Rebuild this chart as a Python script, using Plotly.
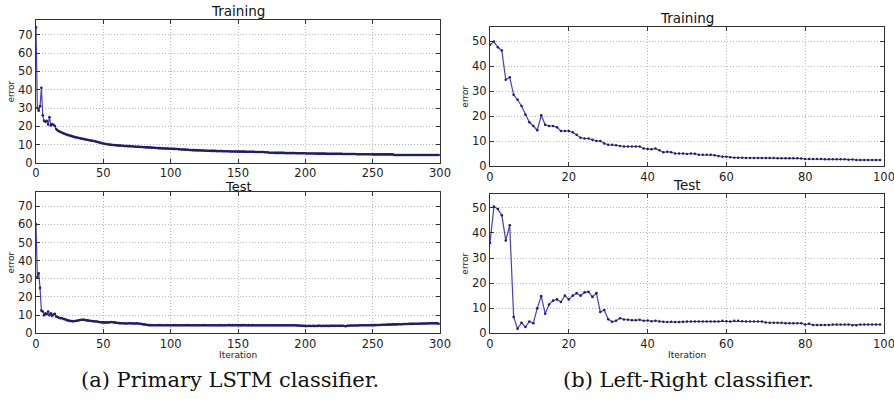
import plotly.graph_objects as go

# ---------------- data ----------------
iter_a = list(range(300))
train_a = [
    74.0, 30.0, 28.5, 31.0, 41.0, 26.0, 23.0, 22.5, 23.0, 21.0,
    25.0, 20.5, 21.2, 20.8, 20.2, 18.5, 17.8, 17.3, 17.0, 16.6,
    16.3, 16.0, 15.7, 15.4, 15.2, 15.0, 14.8, 14.5, 14.3, 14.1,
    13.9, 13.8, 13.6, 13.4, 13.3, 13.1, 13.0, 12.8, 12.7, 12.5,
    12.4, 12.2, 12.1, 12.0, 11.8, 11.6, 11.4, 11.2, 11.0, 10.8,
    10.6, 10.5, 10.3, 10.2, 10.1, 10.0, 9.9, 9.8, 9.8, 9.7,
    9.6, 9.6, 9.5, 9.5, 9.4, 9.4, 9.3, 9.3, 9.2, 9.2,
    9.1, 9.1, 9.0, 9.0, 8.9, 8.9, 8.8, 8.8, 8.7, 8.7,
    8.6, 8.6, 8.5, 8.5, 8.5, 8.4, 8.4, 8.3, 8.3, 8.2,
    8.2, 8.1, 8.1, 8.0, 8.0, 8.0, 7.9, 7.9, 7.9, 7.8,
    7.8, 7.8, 7.7, 7.7, 7.6, 7.6, 7.5, 7.5, 7.4, 7.4,
    7.3, 7.3, 7.2, 7.2, 7.1, 7.1, 7.0, 7.0, 7.0, 6.9,
    6.9, 6.9, 6.8, 6.8, 6.8, 6.8, 6.7, 6.7, 6.7, 6.7,
    6.6, 6.6, 6.6, 6.6, 6.5, 6.5, 6.5, 6.5, 6.5, 6.4,
    6.4, 6.4, 6.4, 6.4, 6.3, 6.3, 6.3, 6.3, 6.3, 6.3,
    6.2, 6.2, 6.3, 6.2, 6.2, 6.2, 6.1, 6.1, 6.1, 6.1,
    6.1, 6.1, 6.1, 6.0, 6.0, 6.0, 6.0, 6.0, 6.0, 6.0,
    5.9, 5.9, 5.9, 5.6, 5.6, 5.6, 5.6, 5.5, 5.5, 5.5,
    5.5, 5.5, 5.5, 5.5, 5.5, 5.4, 5.4, 5.4, 5.4, 5.4,
    5.4, 5.4, 5.4, 5.3, 5.3, 5.3, 5.3, 5.3, 5.3, 5.3,
    5.3, 5.2, 5.2, 5.2, 5.2, 5.2, 5.2, 5.2, 5.1, 5.1,
    5.1, 5.1, 5.1, 5.1, 5.1, 5.1, 5.0, 5.0, 5.0, 5.0,
    5.0, 5.0, 5.0, 5.0, 5.0, 5.0, 5.0, 5.0, 4.9, 4.9,
    4.9, 4.9, 4.9, 4.9, 4.9, 4.9, 4.9, 4.9, 4.8, 4.8,
    4.8, 4.8, 4.8, 4.8, 4.8, 4.8, 4.8, 4.8, 4.8, 4.8,
    4.7, 4.7, 4.7, 4.7, 4.7, 4.7, 4.7, 4.7, 4.7, 4.7,
    4.7, 4.7, 4.7, 4.7, 4.7, 4.7, 4.4, 4.4, 4.4, 4.4,
    4.4, 4.4, 4.4, 4.4, 4.4, 4.4, 4.4, 4.4, 4.4, 4.4,
    4.4, 4.4, 4.4, 4.4, 4.4, 4.4, 4.4, 4.4, 4.4, 4.4,
    4.4, 4.4, 4.4, 4.4, 4.4, 4.4, 4.4, 4.4, 4.4, 4.4,
]
test_a = [
    60.0, 31.0, 33.0, 25.0, 12.5, 12.0, 10.0, 11.0, 10.5, 12.0,
    10.0, 11.0, 9.5, 10.5, 10.8, 9.2, 9.0, 8.6, 8.3, 8.4,
    8.0, 7.8, 7.6, 7.2, 7.0, 6.8, 6.8, 6.7, 6.6, 6.8,
    6.9, 7.0, 7.2, 7.3, 7.5, 7.5, 7.4, 7.2, 7.1, 7.0,
    6.9, 6.8, 6.7, 6.6, 6.5, 6.5, 6.3, 6.2, 6.1, 6.0,
    6.0, 5.9, 5.9, 6.0, 6.0, 6.1, 6.2, 6.1, 6.0, 5.9,
    5.8, 5.7, 5.6, 5.5, 5.5, 5.5, 5.4, 5.4, 5.4, 5.5,
    5.5, 5.4, 5.5, 5.4, 5.4, 5.5, 5.4, 5.3, 5.2, 5.0,
    4.9, 4.8, 4.7, 4.6, 4.5, 4.5, 4.4, 4.4, 4.4, 4.4,
    4.4, 4.4, 4.5, 4.4, 4.4, 4.4, 4.4, 4.5, 4.4, 4.4,
    4.4, 4.4, 4.4, 4.5, 4.4, 4.4, 4.4, 4.4, 4.4, 4.4,
    4.4, 4.4, 4.5, 4.4, 4.4, 4.4, 4.4, 4.4, 4.4, 4.4,
    4.4, 4.4, 4.4, 4.4, 4.4, 4.5, 4.4, 4.4, 4.4, 4.4,
    4.4, 4.4, 4.4, 4.4, 4.4, 4.4, 4.4, 4.5, 4.4, 4.4,
    4.4, 4.4, 4.4, 4.6, 4.5, 4.4, 4.5, 4.4, 4.6, 4.4,
    4.5, 4.4, 4.4, 4.5, 4.4, 4.6, 4.4, 4.4, 4.5, 4.4,
    4.4, 4.5, 4.4, 4.4, 4.4, 4.4, 4.4, 4.4, 4.4, 4.4,
    4.4, 4.4, 4.4, 4.4, 4.4, 4.4, 4.4, 4.4, 4.4, 4.4,
    4.4, 4.4, 4.4, 4.4, 4.4, 4.4, 4.4, 4.4, 4.4, 4.4,
    4.4, 4.4, 4.4, 4.4, 4.3, 4.3, 4.3, 4.2, 4.2, 4.1,
    4.0, 4.0, 4.0, 4.1, 4.0, 4.0, 4.1, 4.0, 4.0, 4.1,
    4.1, 4.1, 4.0, 4.1, 4.0, 4.1, 4.1, 4.0, 4.1, 4.1,
    4.2, 4.1, 4.1, 4.2, 4.2, 4.1, 4.2, 4.1, 4.2, 4.0,
    3.9, 4.1, 4.2, 4.3, 4.3, 4.3, 4.3, 4.3, 4.3, 4.3,
    4.4, 4.4, 4.4, 4.4, 4.4, 4.4, 4.4, 4.4, 4.4, 4.5,
    4.5, 4.5, 4.5, 4.6, 4.6, 4.6, 4.6, 4.7, 4.7, 4.7,
    4.7, 4.8, 4.8, 4.8, 4.8, 4.9, 4.9, 4.9, 4.9, 5.0,
    5.0, 5.0, 5.0, 5.1, 5.1, 5.1, 5.1, 5.2, 5.2, 5.2,
    5.2, 5.3, 5.3, 5.3, 5.3, 5.3, 5.4, 5.4, 5.4, 5.4,
    5.4, 5.5, 5.5, 5.5, 5.6, 5.5, 5.5, 5.6, 5.5, 5.3,
]

iter_b = list(range(100))
train_b = [
    48.5, 49.8, 47.5, 46.2, 34.5, 35.5, 28.5, 26.5, 24.0, 20.5,
    17.5, 16.0, 14.3, 20.3, 16.5, 16.0, 16.0, 15.5, 14.0, 14.0,
    14.0, 13.5, 12.5, 11.3, 11.0, 11.0, 10.5, 10.0, 10.0, 9.0,
    8.5, 8.5, 8.3, 8.0, 7.8, 7.8, 7.8, 7.8, 7.8, 7.0,
    6.8, 6.7, 7.0, 6.3, 5.5, 5.7, 5.5, 5.0, 5.0, 5.0,
    4.8, 5.0, 4.9, 4.5, 4.5, 4.5, 4.5, 4.3, 4.0, 3.7,
    3.7, 3.5, 3.3, 3.3, 3.3, 3.2, 3.2, 3.2, 3.2, 3.2,
    3.2, 3.2, 3.2, 3.1, 3.1, 3.1, 3.1, 3.1, 3.1, 3.0,
    2.8, 2.8, 2.8, 2.8, 2.8, 2.7, 2.7, 2.7, 2.7, 2.7,
    2.7, 2.5, 2.6, 2.4, 2.4, 2.4, 2.4, 2.4, 2.4, 2.4,
]
test_b = [
    36.0, 50.5, 49.5, 47.0, 37.0, 43.0, 6.5, 1.8, 4.2, 2.5,
    4.7, 4.0, 10.0, 14.8, 7.8, 11.5, 13.0, 13.5, 12.5, 15.0,
    13.5, 15.0, 16.0, 15.0, 16.3, 16.5, 14.5, 16.0, 8.5, 9.3,
    5.6, 4.6, 5.0, 6.0, 5.5, 5.4, 5.2, 5.2, 5.4, 5.0,
    5.1, 4.8, 5.0, 4.7, 4.6, 4.5, 4.6, 4.5, 4.5, 4.6,
    4.7, 4.7, 4.7, 4.7, 4.7, 4.7, 4.7, 4.7, 4.7, 5.0,
    4.8, 4.7, 5.0, 5.0, 4.8, 4.7, 4.7, 4.7, 4.7, 4.7,
    4.3, 4.2, 4.2, 4.2, 4.2, 4.0, 4.0, 4.0, 4.0, 4.0,
    3.5, 3.8, 3.3, 3.3, 3.3, 3.3, 3.3, 3.5, 3.5, 3.5,
    3.5, 3.5, 3.2, 3.2, 3.5, 3.5, 3.5, 3.5, 3.5, 3.5,
]

panel_titles = ["Training", "Test", "Training", "Test"]
captions = ["(a) Primary LSTM classifier.", "(b) Left-Right classifier."]

# ---------------- style ----------------
W, H = 894, 399
LINE = "#4a3fb8"
MARK = "#231d6b"
FONT = "DejaVu Sans"

def px_x(p):
    return p / W

def px_y(p):
    return 1 - p / H

# panel pixel boxes (left, right, top, bottom)
boxes = [
    (36, 440, 20, 163),
    (36, 440, 191.7, 333.3),
    (490, 884, 27.3, 166),
    (490, 884, 194, 333.3),
]
title_shift = [-1, -4, -1, -1]

fig = go.Figure()
series = [(iter_a, train_a), (iter_a, test_a), (iter_b, train_b), (iter_b, test_b)]
for i, (xs, ys) in enumerate(series):
    ax = "" if i == 0 else str(i + 1)
    fig.add_trace(go.Scatter(
        x=xs, y=ys, mode="lines+markers",
        line=dict(color=LINE, width=1.2),
        marker=dict(color=MARK, size=2.6),
        xaxis="x" + ax, yaxis="y" + ax, showlegend=False,
        hoverinfo="skip",
    ))

layout = dict(
    width=W, height=H, margin=dict(l=0, r=0, t=0, b=0, autoexpand=False),
    paper_bgcolor="white", plot_bgcolor="white",
    font=dict(family=FONT, color="#222222"),
)
annotations = []
for i, (l, r, t, b) in enumerate(boxes):
    ax = "" if i == 0 else str(i + 1)
    left = i < 2
    xr = [0, 300] if left else [0, 100]
    yr = [0, 78] if left else [0, 55.5]
    common = dict(
        showgrid=True, gridcolor="#b4b4b4", griddash="1px,2px", gridwidth=1,
        showline=True, linecolor="#333333", linewidth=1.2, mirror="allticks",
        ticks="inside", ticklen=4, tickcolor="#333333",
        tickfont=dict(size=11.5, family=FONT, color="#222222"),
        ticklabeloverflow="allow",
        zeroline=False, fixedrange=True, automargin=False,
    )
    layout["xaxis" + ax] = dict(
        domain=[px_x(l), px_x(r)], range=xr, anchor="y" + ax,
        dtick=50 if left else 20, tick0=0,
        ticklabelstandoff=-1 if i == 0 else 0, **common,
    )
    layout["yaxis" + ax] = dict(
        domain=[px_y(b), px_y(t)], range=yr, anchor="x" + ax,
        dtick=10, tick0=0, **common,
    )
    # panel title
    annotations.append(dict(
        text=panel_titles[i], x=px_x((l + r) / 2), y=px_y(t), xref="paper", yref="paper",
        xanchor="center", yanchor="bottom", yshift=title_shift[i], showarrow=False,
        font=dict(size=13.5 if i != 1 else 13, family=FONT, color="#111111"),
    ))
    # y axis title
    annotations.append(dict(
        text="error", x=px_x(l - 26 if left else l - 25), y=px_y((t + b) / 2),
        xref="paper", yref="paper", xanchor="center", yanchor="middle",
        textangle=-90, showarrow=False,
        font=dict(size=9, family=FONT, color="#222222"),
    ))
    if i in (1, 3):
        annotations.append(dict(
            text="Iteration", x=px_x((l + r) / 2), y=px_y(355), xref="paper", yref="paper",
            xanchor="center", yanchor="middle", showarrow=False,
            font=dict(size=9, family=FONT, color="#222222"),
        ))

annotations.append(dict(
    text=captions[0], x=px_x(230), y=px_y(380), xref="paper", yref="paper",
    xanchor="center", yanchor="middle", showarrow=False,
    font=dict(size=21, family="DejaVu Serif", color="#111111"),
))
annotations.append(dict(
    text=captions[1], x=px_x(688), y=px_y(380), xref="paper", yref="paper",
    xanchor="center", yanchor="middle", showarrow=False,
    font=dict(size=21, family="DejaVu Serif", color="#111111"),
))
layout["annotations"] = annotations
fig.update_layout(**layout)
fig.write_html(
    "out.html",
    config={"displayModeBar": False},
    post_script="document.body.style.margin='0';document.body.style.overflow='hidden';",
)
